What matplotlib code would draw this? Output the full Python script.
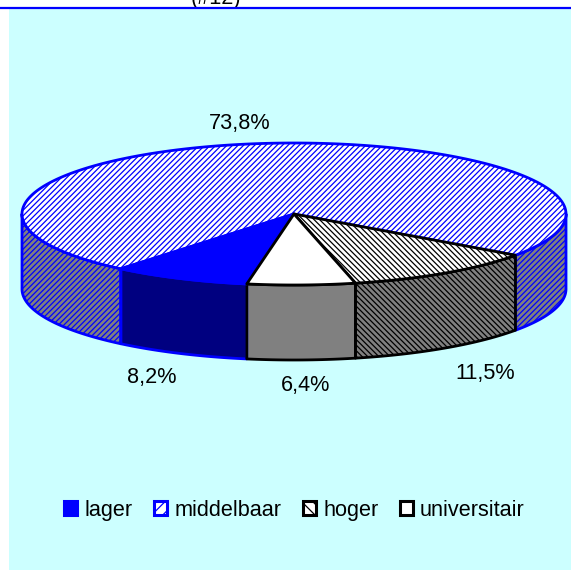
import numpy as np
import matplotlib
matplotlib.use("Agg")
import matplotlib.pyplot as plt
from matplotlib.patches import Polygon, Patch, Rectangle

plt.rcParams['font.family'] = ['Liberation Sans', 'DejaVu Sans']
plt.rcParams['hatch.linewidth'] = 0.9

categories = ['lager', 'middelbaar', 'hoger', 'universitair']
values = [8.2, 73.8, 11.5, 6.4]
value_labels = ['8,2%', '73,8%', '11,5%', '6,4%']
label_pos = [(152, 378), (240, 123), (485, 373), (306, 386)]

BLUE, NAVY, BLACK, GREY, CYAN = '#0000FF', '#000080', '#000000', '#808080', '#CCFFFF'
top_face = [BLUE, 'white', 'white', 'white']
side_face = [NAVY, GREY, GREY, GREY]
edges = [BLUE, BLUE, BLACK, BLACK]
hatches = [None, '//////', '\\\\\\\\\\\\', None]
legend_hatches = [None, '///', '\\\\\\', None]

W, H = 571, 570
cx, cy, rx, ry, depth = 294, 214, 272, 71, 75
start_deg = 100.0
FS = 15.6

fig = plt.figure(figsize=(W / 100, H / 100), dpi=100, facecolor='white')
ax = fig.add_axes([0, 0, 1, 1])
ax.set_xlim(0, W); ax.set_ylim(H, 0); ax.axis('off')

ax.add_patch(Rectangle((9, 7), W - 9, H - 7, fc=CYAN, ec='none', zorder=0))
ax.text(216, 4, '(#12)', fontsize=FS, ha='center', va='baseline', color='black', zorder=1)
ax.plot([0, W], [7.5, 7.5], color=BLUE, lw=1.6, zorder=2, solid_capstyle='butt')


def rim(a, b, dy=0.0):
    t = np.radians(np.linspace(a, b, max(int(abs(b - a) * 2), 2)))
    return np.c_[cx + rx * np.cos(t), cy + ry * np.sin(t) + dy]


def draw(poly, face, edge, hatch, lw, z):
    ax.add_patch(Polygon(poly, closed=True, fc=face, ec=edge, lw=0, hatch=hatch, zorder=z))
    ax.add_patch(Polygon(poly, closed=True, fc='none', ec=edge, lw=lw, joinstyle='round', zorder=z + 0.5))


sweeps = np.array(values) / sum(values) * 360
bounds = start_deg + np.r_[0, np.cumsum(sweeps)]
LW = 2.0

# walls
for i in range(4):
    a, b = bounds[i], bounds[i + 1]
    for lo, hi in [(0, 180), (360, 540)]:
        s, e = max(a, lo), min(b, hi)
        if s < e:
            poly = np.vstack([rim(s, e), rim(e, s, depth)])
            draw(poly, side_face[i], edges[i], hatches[i], LW, 3 + i * 0.01)
# tops
order = [1, 0, 2, 3]
for k, i in enumerate(order):
    poly = np.vstack([[(cx, cy)], rim(bounds[i], bounds[i + 1])])
    draw(poly, top_face[i], edges[i], hatches[i], LW, 5 + k)

for (x, y), s in zip(label_pos, value_labels):
    ax.text(x, y, s, fontsize=FS, ha='center', va='center', color='black', zorder=10)

handles = [Patch(fc=top_face[i], ec=edges[i], lw=2.2, hatch=legend_hatches[i]) for i in range(4)]
ax.legend(handles, categories, ncol=4, loc='center', bbox_to_anchor=(294.5 / W, 1 - 510.5 / H),
          frameon=False, fontsize=FS, handlelength=0.6, handleheight=0.6,
          handletextpad=0.33, columnspacing=1.0, borderpad=0, labelspacing=0)

fig.savefig('out.png', dpi=100)
